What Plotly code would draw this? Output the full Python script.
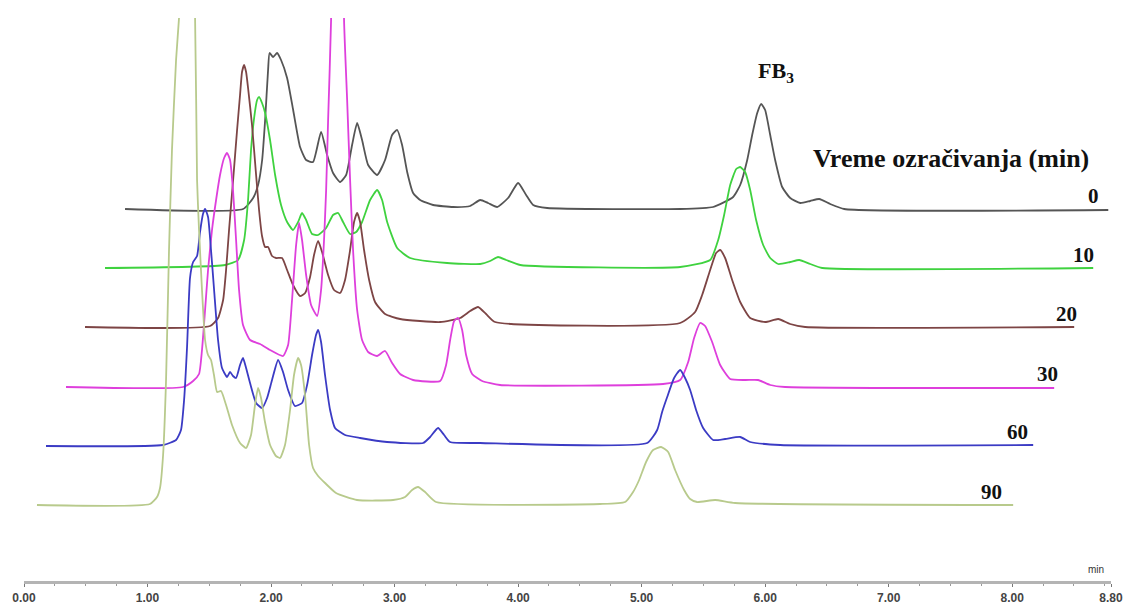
import plotly.graph_objects as go

# ---------------- data ----------------
# Irradiation time of each chromatogram (min)
irradiation_min = [0, 10, 20, 30, 60, 90]

# Retention time (min) and detector signal (a.u., above the trace's own baseline)
rt_0 = [0.018, 0.974, 1.055, 1.095, 1.128, 1.152, 1.176, 1.188, 1.217, 1.249, 1.281, 1.330, 1.379,
        1.435, 1.484, 1.540, 1.605, 1.654, 1.702, 1.759, 1.808, 1.856, 1.897, 1.937, 1.986, 2.059,
        2.123, 2.180, 2.221, 2.261, 2.302, 2.350, 2.407, 2.512, 2.674, 2.812, 2.893, 2.957, 3.030,
        3.119, 3.200, 3.265, 3.322, 3.435, 4.512, 4.779, 4.941, 4.998, 5.055, 5.095, 5.136, 5.168,
        5.200, 5.241, 5.281, 5.338, 5.403, 5.484, 5.565, 5.638, 5.727, 5.840, 7.978]
sig_0 = [0, 0, 11, 24, 49, 89, 139, 156, 152, 156, 149, 131, 99,
         62, 49, 47, 77, 54, 36, 27, 34, 64, 86, 69, 44, 34,
         49, 74, 79, 64, 37, 16, 9, 4, 2, 3, 9, 6, 2,
         11, 26, 14, 4, 1, 0, 2, 12, 24, 49, 74, 96, 105,
         99, 74, 49, 22, 11, 6, 8, 10, 5, 0, -1]

rt_10 = [0.016, 0.988, 1.093, 1.142, 1.174, 1.198, 1.223, 1.247, 1.263, 1.287, 1.312, 1.352, 1.393,
         1.441, 1.490, 1.538, 1.579, 1.611, 1.644, 1.692, 1.741, 1.806, 1.862, 1.903, 1.943, 2.000,
         2.049, 2.097, 2.162, 2.219, 2.259, 2.300, 2.381, 2.486, 2.785, 3.053, 3.134, 3.198, 3.263,
         3.377, 4.672, 4.915, 4.980, 5.028, 5.077, 5.126, 5.158, 5.198, 5.239, 5.287, 5.344, 5.401,
         5.466, 5.563, 5.636, 5.725, 5.822, 8.016]
sig_10 = [0, 3, 8, 28, 68, 118, 150, 168, 171, 165, 155, 128, 93,
          63, 46, 38, 46, 55, 48, 34, 33, 40, 53, 55, 46, 34,
          36, 46, 68, 78, 68, 46, 20, 10, 5, 4, 7, 11, 8,
          3, 1, 8, 28, 53, 83, 99, 101, 96, 78, 48, 23, 10,
          4, 6, 8, 4, 0, 0]

rt_20 = [0.014, 1.026, 1.091, 1.132, 1.156, 1.180, 1.213, 1.245, 1.269, 1.285, 1.302, 1.318, 1.334,
         1.366, 1.399, 1.423, 1.447, 1.472, 1.496, 1.528, 1.561, 1.609, 1.650, 1.698, 1.755, 1.796,
         1.836, 1.868, 1.901, 1.933, 1.982, 2.030, 2.079, 2.119, 2.160, 2.192, 2.217, 2.241, 2.273,
         2.314, 2.362, 2.443, 2.565, 2.889, 3.051, 3.132, 3.196, 3.261, 3.334, 4.832, 4.953, 5.010,
         5.075, 5.123, 5.156, 5.196, 5.253, 5.318, 5.399, 5.520, 5.626, 5.723, 5.844, 8.022]
sig_20 = [0, 1, 9, 27, 57, 97, 147, 197, 232, 255, 262, 255, 239,
          202, 152, 117, 91, 80, 80, 71, 69, 69, 57, 42, 31, 34,
          50, 72, 86, 75, 52, 37, 34, 47, 77, 105, 114, 105, 77,
          47, 25, 13, 8, 5, 9, 16, 20, 13, 5, 4, 15, 32,
          57, 74, 77, 69, 47, 25, 9, 5, 8, 3, 0, 0]

rt_30 = [0.020, 0.968, 1.049, 1.097, 1.121, 1.146, 1.170, 1.202, 1.235, 1.267, 1.300, 1.324, 1.348,
         1.372, 1.397, 1.421, 1.453, 1.510, 1.591, 1.672, 1.777, 1.818, 1.850, 1.883, 1.907, 1.931,
         1.964, 2.004, 2.053, 2.085, 2.109, 2.126, 2.142, 2.166, 2.190, 2.219, 2.247, 2.271, 2.296,
         2.320, 2.344, 2.377, 2.417, 2.466, 2.538, 2.603, 2.660, 2.725, 2.830, 3.049, 3.097, 3.130,
         3.162, 3.194, 3.227, 3.259, 3.308, 3.389, 3.534, 4.854, 4.992, 5.057, 5.105, 5.154, 5.194,
         5.251, 5.316, 5.397, 5.518, 5.623, 5.721, 5.842, 8.020]
sig_30 = [0, 0, 6, 13, 37, 77, 117, 157, 187, 212, 229, 234, 227,
          197, 147, 97, 62, 47, 43, 37, 31, 42, 87, 142, 164, 147,
          112, 82, 71, 97, 147, 197, 267, 367, 687, 977, 687, 367, 287,
          207, 137, 77, 47, 35, 31, 36, 24, 13, 7, 6, 22, 47,
          66, 69, 57, 32, 13, 6, 2, 3, 7, 25, 49, 64, 61,
          45, 22, 8, 7, 7, 2, 0, -1]

rt_60 = [0.018, 0.966, 1.071, 1.111, 1.136, 1.160, 1.184, 1.209, 1.241, 1.265, 1.289, 1.306, 1.330,
         1.354, 1.379, 1.411, 1.443, 1.484, 1.508, 1.532, 1.557, 1.589, 1.613, 1.638, 1.670, 1.719,
         1.767, 1.808, 1.848, 1.897, 1.937, 1.978, 2.034, 2.091, 2.132, 2.172, 2.204, 2.221, 2.245,
         2.277, 2.318, 2.358, 2.439, 2.561, 2.779, 3.071, 3.128, 3.192, 3.241, 3.289, 3.532, 4.885,
         4.966, 5.006, 5.047, 5.103, 5.152, 5.192, 5.233, 5.281, 5.338, 5.419, 5.516, 5.638, 5.719,
         5.962, 8.010]
sig_60 = [-1, 0, 5, 15, 45, 98, 167, 183, 189, 213, 231, 236, 228,
          195, 155, 105, 77, 68, 73, 69, 67, 80, 87, 77, 62, 42,
          37, 47, 65, 85, 73, 55, 39, 42, 60, 90, 110, 115, 103,
          70, 35, 17, 10, 7, 3, 2, 8, 17, 10, 3, 2, 2,
          15, 33, 48, 67, 75, 67, 55, 35, 17, 5, 6, 8, 3,
          0, 0]

rt_90 = [0.105, 1.020, 1.077, 1.101, 1.126, 1.150, 1.174, 1.198, 1.231, 1.255, 1.287, 1.320, 1.352,
         1.385, 1.401, 1.417, 1.441, 1.466, 1.490, 1.514, 1.538, 1.563, 1.595, 1.636, 1.684, 1.749,
         1.798, 1.838, 1.870, 1.895, 1.919, 1.951, 1.992, 2.040, 2.073, 2.113, 2.154, 2.186, 2.219,
         2.243, 2.275, 2.308, 2.340, 2.381, 2.437, 2.526, 2.696, 2.988, 3.085, 3.142, 3.190, 3.247,
         3.336, 4.664, 4.866, 4.931, 4.980, 5.036, 5.093, 5.158, 5.215, 5.271, 5.344, 5.393, 5.449,
         5.595, 5.757, 8.008]
sig_90 = [0, 1, 8, 17, 50, 125, 255, 355, 445, 487, 565, 605, 565,
          487, 325, 275, 215, 165, 150, 145, 130, 113, 114, 100, 80, 62,
          57, 70, 100, 117, 107, 83, 60, 49, 47, 60, 95, 130, 147,
          140, 110, 60, 37, 29, 22, 12, 5, 5, 8, 15, 18, 13,
          3, 1, 3, 13, 25, 43, 55, 58, 53, 35, 15, 6, 3,
          5, 2, 0]

retention = [rt_0, rt_10, rt_20, rt_30, rt_60, rt_90]
signal = [sig_0, sig_10, sig_20, sig_30, sig_60, sig_90]

x_ticks = [0, 1, 2, 3, 4, 5, 6, 7, 8, 8.8]
x_tick_text = ["0.00", "1.00", "2.00", "3.00", "4.00", "5.00", "6.00", "7.00", "8.00", "8.80"]

# ---------------- style / layout (stacked 3-D style offsets) ----------------
colors = ["#555555", "#3fd23f", "#7d4545", "#de3fdc", "#3b3bc4", "#b8ca8c"]
x_shift = [0.80, 0.64, 0.48, 0.32, 0.16, 0.00]     # horizontal skew of each trace (min)
y_offset = [372, 313, 254, 194, 136, 76]           # vertical offset of each trace
label_x = [8.656, 8.575, 8.437, 8.283, 8.040, 7.830]
label_dy = 13

fig = go.Figure()
for i, t in enumerate(irradiation_min):
    fig.add_trace(go.Scatter(
        x=[r + x_shift[i] for r in retention[i]],
        y=[s + y_offset[i] for s in signal[i]],
        mode="lines",
        name=f"{t} min",
        line=dict(color=colors[i], width=1.8, shape="spline", smoothing=0.5),
        showlegend=False,
        hoverinfo="skip",
    ))

serif = "Liberation Serif"
for i, t in enumerate(irradiation_min):
    fig.add_annotation(x=label_x[i], y=y_offset[i] + label_dy, text=f"<b>{t}</b>",
                       showarrow=False, font=dict(family=serif, size=21, color="#111111"))

fig.add_annotation(x=6.089, y=509, text="<b>FB<sub>3</sub></b>", showarrow=False,
                   font=dict(family=serif, size=22, color="#111111"))
fig.add_annotation(x=7.506, y=423, text="<b>Vreme ozračivanja (min)</b>", showarrow=False,
                   font=dict(family=serif, size=26, color="#111111"))
fig.add_annotation(x=8.68, y=12, text="min", showarrow=False,
                   font=dict(family="Liberation Sans", size=10, color="#333333"))

fig.update_layout(
    width=1124, height=604,
    margin=dict(l=24, r=13, t=18, b=23, autoexpand=False),
    paper_bgcolor="white", plot_bgcolor="white",
    hovermode=False,
    xaxis=dict(
        range=[0, 8.8], showgrid=False, zeroline=False, automargin=False,
        showline=True, linecolor="#b4b4b4", linewidth=3,
        tickmode="array", tickvals=x_ticks, ticktext=x_tick_text,
        ticks="outside", ticklen=3, tickcolor="#777777", tickwidth=1,
        minor=dict(dtick=0.25, ticks="outside", ticklen=2, tickcolor="#999999"),
        tickfont=dict(family="Liberation Sans", size=12, color="#444444", weight="bold"),
        ticklabelstandoff=1,
    ),
    yaxis=dict(range=[0, 563], visible=False, fixedrange=True, automargin=False),
)

fig.write_html("out.html", config={"displayModeBar": False},
               post_script="document.body.style.margin='0';")
